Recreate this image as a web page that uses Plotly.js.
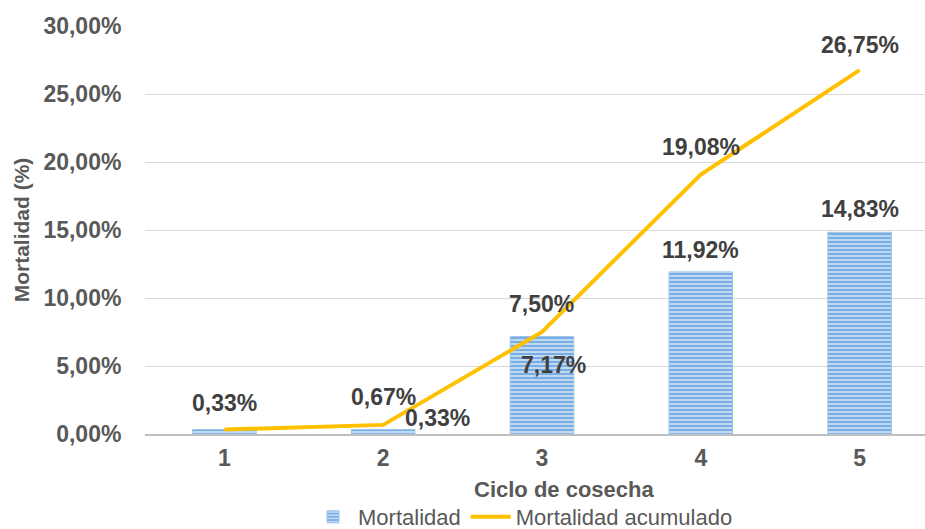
<!DOCTYPE html>
<html>
<head>
<meta charset="utf-8">
<script src="https://cdn.plot.ly/plotly-3.0.1.min.js"></script>
<style>
  html, body { margin: 0; padding: 0; background: #ffffff; }
  #chart { width: 925px; height: 529px; }
</style>
</head>
<body>
<div id="chart"></div>
<script>
// Harvest cycles and mortality (per cycle and cumulative), in percent
const cycles = [1, 2, 3, 4, 5];
const cycleLabels = ['1', '2', '3', '4', '5'];
const mortality = [0.33, 0.33, 7.17, 11.92, 14.83];
const cumulativeMortality = [0.33, 0.67, 7.50, 19.08, 26.75];

// Label placement (pixel offsets from each mark)
const barLabelShown = [false, true, true, true, true];
const barLabelDx = [0, 54, 12, 0, 0];
const barLabelDy = [0, 12, -29, 22, 23];
const lineLabelDy = [27, 28, 28, 28, 25];

const FONT = '"Liberation Sans", Arial, sans-serif';
const fmt = v => v.toFixed(2).replace('.', ',') + '%';

const bars = {
  type: 'bar',
  name: 'Mortalidad',
  x: cycles,
  y: mortality,
  width: 0.4,
  marker: {
    color: '#7aaee0',
    line: { color: '#9cc4ea', width: 1 },
    pattern: { shape: '-', size: 4, solidity: 0.45, fgcolor: '#c8def4', bgcolor: '#78aee2', fillmode: 'replace' }
  },
  hoverinfo: 'skip'
};

const line = {
  type: 'scatter',
  mode: 'lines',
  name: 'Mortalidad acumulado',
  x: cycles,
  y: cumulativeMortality,
  line: { color: '#ffc000', width: 4 },
  hoverinfo: 'skip'
};

const annotations = [];
cycles.forEach((c, i) => {
  annotations.push({
    x: c, y: cumulativeMortality[i], xref: 'x', yref: 'y',
    text: fmt(cumulativeMortality[i]), showarrow: false,
    yshift: lineLabelDy[i],
    font: { family: FONT, size: 23, color: '#404040', weight: 700 }
  });
  if (barLabelShown[i]) {
    annotations.push({
      x: c, y: mortality[i], xref: 'x', yref: 'y',
      text: fmt(mortality[i]), showarrow: false,
      xshift: barLabelDx[i], yshift: barLabelDy[i],
      font: { family: FONT, size: 23, color: '#404040', weight: 700 }
    });
  }
});

// x-axis title, set below the tick labels
annotations.push({
  xref: 'paper', yref: 'paper', x: 0.538, y: -0.137,
  xanchor: 'center', yanchor: 'middle', showarrow: false,
  text: 'Ciclo de cosecha',
  font: { family: FONT, size: 22, color: '#595959', weight: 700 }
});

const layout = {
  width: 925,
  height: 529,
  margin: { l: 145, r: 0, t: 26, b: 95 },
  paper_bgcolor: '#ffffff',
  plot_bgcolor: '#ffffff',
  separators: ',.',
  font: { family: FONT, color: '#595959' },
  showlegend: true,
  legend: {
    orientation: 'h',
    xref: 'container', yref: 'container',
    x: 0.333, xanchor: 'left',
    y: 0.0227, yanchor: 'middle',
    font: { family: FONT, size: 22, color: '#595959' },
    bgcolor: 'rgba(0,0,0,0)',
    traceorder: 'normal',
    itemwidth: 40
  },
  xaxis: {
    type: 'linear',
    range: [0.5, 5.412],
    tickvals: cycles,
    ticktext: cycleLabels,
    showgrid: false,
    zeroline: false,
    showline: true,
    linecolor: '#bfbfbf',
    linewidth: 2,
    ticks: 'outside', ticklen: 2, tickcolor: 'rgba(0,0,0,0)',
    tickfont: { family: FONT, size: 23, color: '#595959', weight: 700 },
    automargin: false,
    fixedrange: true
  },
  yaxis: {
    range: [0, 30],
    dtick: 5,
    tickformat: '.2f',
    ticksuffix: '%',
    showgrid: true,
    gridcolor: '#d9d9d9',
    gridwidth: 1,
    zeroline: false,
    showline: false,
    ticks: 'outside', ticklen: 18, tickcolor: 'rgba(0,0,0,0)',
    tickfont: { family: FONT, size: 23, color: '#595959', weight: 700 },
    title: {
      text: 'Mortalidad (%)',
      standoff: 8,
      font: { family: FONT, size: 21, color: '#595959', weight: 700 }
    },
    automargin: false,
    fixedrange: true
  },
  annotations: annotations,
  bargap: 0
};

Plotly.newPlot('chart', [bars, line], layout, { displayModeBar: false, staticPlot: true });
</script>
</body>
</html>
